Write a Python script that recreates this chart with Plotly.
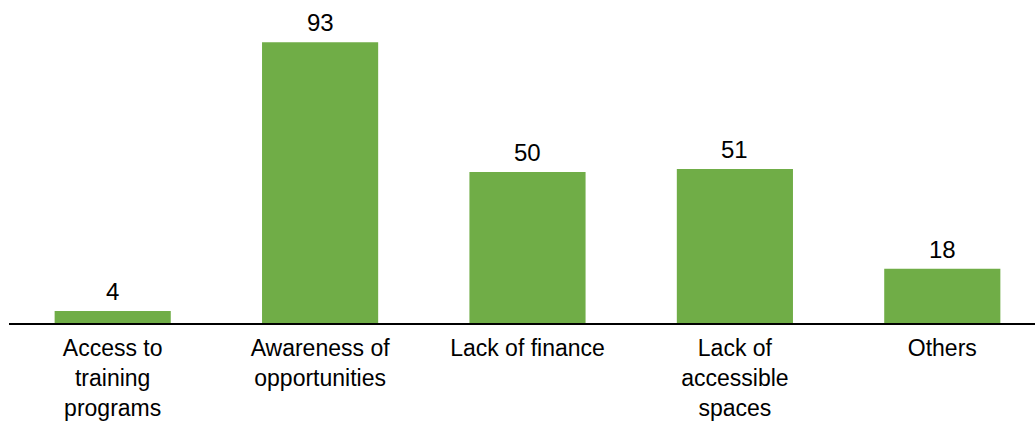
import plotly.graph_objects as go

# Barrier categories and response counts
categories = [
    "Access to<br>training<br>programs",
    "Awareness of<br>opportunities",
    "Lack of finance",
    "Lack of<br>accessible<br>spaces",
    "Others",
]
counts = [4, 93, 50, 51, 18]

bar_color = "#70AD47"
font_family = "Liberation Sans, Arial, sans-serif"

fig = go.Figure(
    go.Bar(
        x=list(range(len(categories))),
        y=counts,
        marker=dict(color=bar_color, line=dict(width=0)),
        width=0.56,
        hoverinfo="skip",
    )
)

# Value labels above each bar
for i, v in enumerate(counts):
    fig.add_annotation(
        x=i, y=v, text=str(v), showarrow=False,
        yanchor="bottom", yshift=4,
        font=dict(family=font_family, size=24, color="black"),
    )

fig.update_layout(
    width=1035,
    height=421,
    margin=dict(l=8.5, r=0, t=21, b=97.5),
    paper_bgcolor="white",
    plot_bgcolor="white",
    showlegend=False,
    font=dict(family=font_family, size=23, color="black"),
    xaxis=dict(
        tickmode="array",
        tickvals=list(range(len(categories))),
        ticktext=categories,
        range=[-0.5, 4.447],
        showline=True,
        linecolor="black",
        linewidth=1.5,
        showgrid=False,
        zeroline=False,
        ticks="",
        ticklabelstandoff=4,
        automargin=False,
        tickfont=dict(family=font_family, size=23, color="black"),
        fixedrange=True,
    ),
    yaxis=dict(
        range=[0, 100],
        visible=False,
        automargin=False,
        fixedrange=True,
    ),
)

fig.write_html("out.html")
